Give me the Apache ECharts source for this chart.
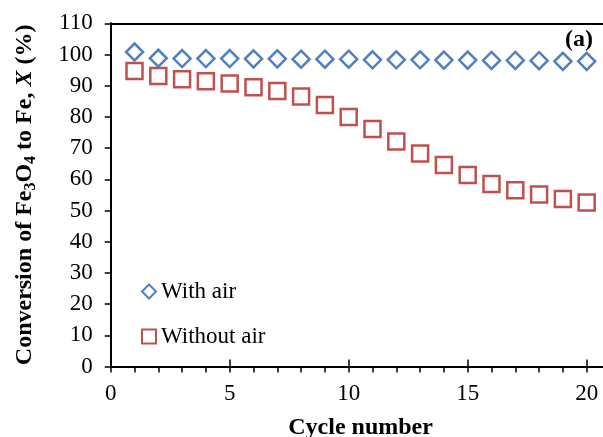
<!DOCTYPE html>
<html>
<head>
<meta charset="utf-8">
<script src="https://cdn.jsdelivr.net/npm/echarts@6/dist/echarts.min.js"></script>
<style>
  html, body { margin: 0; padding: 0; background: #fff; }
  #chart { width: 603px; height: 437px; }
</style>
</head>
<body>
<div id="chart"></div>
<script>
// Data
const cycles = [1, 2, 3, 4, 5, 6, 7, 8, 9, 10, 11, 12, 13, 14, 15, 16, 17, 18, 19, 20];
const withAir = [100.8, 98.8, 98.7, 98.7, 98.7, 98.6, 98.6, 98.5, 98.5, 98.5, 98.3, 98.3, 98.3, 98.2, 98.2, 98.1, 98.1, 98.0, 97.8, 97.8];
const withoutAir = [94.7, 93.1, 92.1, 91.4, 90.7, 89.5, 88.3, 86.5, 83.8, 80.0, 76.1, 72.1, 68.3, 64.6, 61.4, 58.5, 56.5, 55.1, 53.7, 52.6];
const seriesNames = ['With air', 'Without air'];
const xLabels = [0, 5, 10, 15, 20];

const FONT = '"Liberation Serif", "Times New Roman", serif';
const BLUE = '#4F81BD';
const RED = '#C0504D';

const chart = echarts.init(document.getElementById('chart'), null, { renderer: 'canvas' });

const pairs = (ys) => cycles.map((c, i) => [c, ys[i]]);

chart.setOption({
  animation: false,
  backgroundColor: '#fff',
  grid: { left: 110.7, top: 23.3, right: -7.5, bottom: 70.5, containLabel: false, outerBoundsMode: 'none' },
  xAxis: [
    {
      type: 'value', position: 'bottom', min: 0, max: 21, interval: 1,
      axisLine: { lineStyle: { color: '#000', width: 2 } },
      axisTick: { show: true, inside: false, length: 6, lineStyle: { color: '#000', width: 1.5 } },
      axisLabel: {
        margin: 16, color: '#000', fontFamily: FONT, fontSize: 23,
        formatter: (v) => xLabels.includes(v) ? String(v) : ''
      },
      splitLine: { show: false },
      name: 'Cycle number', nameLocation: 'middle', nameGap: 49,
      nameTextStyle: { color: '#000', fontFamily: FONT, fontSize: 24, fontWeight: 'bold' }
    },
    {
      type: 'value', position: 'bottom', min: 0, max: 21, interval: 5,
      axisLine: { show: false },
      axisTick: { show: true, inside: true, length: 7, lineStyle: { color: '#000', width: 1.5 } },
      axisLabel: { show: false },
      splitLine: { show: false }
    },
    {
      type: 'value', position: 'top', min: 0, max: 21,
      axisLine: { lineStyle: { color: '#000', width: 2 } },
      axisTick: { show: false },
      axisLabel: { show: false },
      splitLine: { show: false }
    }
  ],
  yAxis: {
    type: 'value', min: 0, max: 110, interval: 10,
    axisLine: { show: true, lineStyle: { color: '#000', width: 2 } },
    axisTick: { show: true, inside: false, length: 6, lineStyle: { color: '#000', width: 1.5 } },
    axisLabel: { margin: 18, color: '#000', fontFamily: FONT, fontSize: 23 },
    splitLine: { show: false },
    name: '{b|Conversion of Fe}{s|3}{b|O}{s|4}{b| to Fe, }{i|X}{b| (%)}',
    nameLocation: 'middle', nameRotate: 90, nameGap: 72,
    nameTextStyle: {
      color: '#000',
      rich: {
        b: { fontFamily: FONT, fontSize: 24, fontWeight: 'bold', color: '#000', lineHeight: 28, verticalAlign: 'middle' },
        i: { fontFamily: FONT, fontSize: 24, fontWeight: 'bold', fontStyle: 'italic', color: '#000', lineHeight: 28, verticalAlign: 'middle' },
        s: { fontFamily: FONT, fontSize: 16, fontWeight: 'bold', color: '#000', lineHeight: 16, verticalAlign: 'bottom', padding: [12, 0, 0, 0] }
      }
    }
  },
  legend: {
    orient: 'vertical', left: 141, top: 280, itemGap: 22, padding: 0,
    itemWidth: 14, itemHeight: 14,
    textStyle: { color: '#000', fontFamily: FONT, fontSize: 23 },
    data: [
      { name: seriesNames[0], icon: 'diamond', itemStyle: { color: '#fff', borderColor: BLUE, borderWidth: 2 } },
      { name: seriesNames[1], icon: 'rect', itemStyle: { color: '#fff', borderColor: RED, borderWidth: 2 } }
    ]
  },
  graphic: [
    {
      type: 'text', left: 565, top: 28,
      style: { text: '(a)', fill: '#000', font: 'bold 24px ' + FONT }
    }
  ],
  series: [
    {
      name: seriesNames[0], type: 'scatter', data: pairs(withAir),
      symbol: 'diamond', symbolSize: 17,
      itemStyle: { color: '#fff', borderColor: BLUE, borderWidth: 2.5, opacity: 1 },
      z: 3
    },
    {
      name: seriesNames[1], type: 'scatter', data: pairs(withoutAir),
      symbol: 'rect', symbolSize: 16,
      itemStyle: { color: 'rgba(255,255,255,0)', borderColor: RED, borderWidth: 2.5, opacity: 1 },
      z: 2
    }
  ]
});

window.addEventListener('resize', () => chart.resize());
</script>
</body>
</html>
